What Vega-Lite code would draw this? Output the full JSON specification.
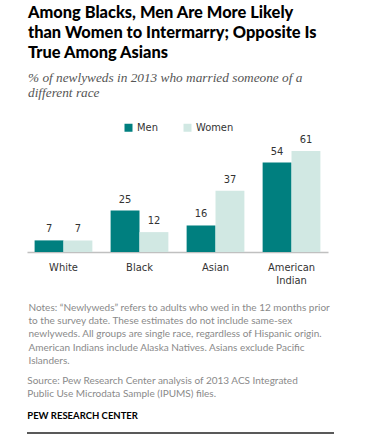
{
  "$schema": "https://vega.github.io/schema/vega-lite/v6.json",
  "padding": {"left": 26, "top": 5, "right": 5, "bottom": 5},
  "background": "white",
  "title": {
    "text": ["Among Blacks, Men Are More Likely", "than Women to Intermarry; Opposite Is", "True Among Asians"],
    "subtitle": ["% of newlyweds in 2013 who married someone of a", "different race"],
    "anchor": "start",
    "frame": "group",
    "dx": 1,
    "font": "Lato",
    "fontSize": 16.4,
    "fontWeight": 900,
    "color": "#000000",
    "lineHeight": 20,
    "subtitleFont": "Liberation Serif",
    "subtitleFontStyle": "italic",
    "subtitleFontSize": 13.3,
    "subtitleColor": "#555555",
    "subtitleLineHeight": 15,
    "subtitlePadding": 9,
    "offset": 23
  },
  "config": {"view": {"stroke": null}},
  "spacing": 9,
  "vconcat": [
    {
      "width": 301,
      "height": 116,
      "data": {
        "values": [
          {"race": "White", "sex": "Men", "pct": 7},
          {"race": "White", "sex": "Women", "pct": 7},
          {"race": "Black", "sex": "Men", "pct": 25},
          {"race": "Black", "sex": "Women", "pct": 12},
          {"race": "Asian", "sex": "Men", "pct": 16},
          {"race": "Asian", "sex": "Women", "pct": 37},
          {"race": "American Indian", "sex": "Men", "pct": 54},
          {"race": "American Indian", "sex": "Women", "pct": 61}
        ]
      },
      "encoding": {
        "x": {
          "field": "race",
          "type": "nominal",
          "sort": ["White", "Black", "Asian", "American Indian"],
          "scale": {"paddingInner": 0.24, "paddingOuter": 0.1},
          "axis": {
            "title": [
              "Notes: \u201cNewlyweds\u201d refers to adults who wed in the 12 months prior",
              "to the survey date. These estimates do not include same-sex",
              "newlyweds. All groups are single race, regardless of Hispanic origin.",
              "American Indians include Alaska Natives. Asians exclude Pacific",
              "Islanders."
            ],
            "titleAnchor": "start",
            "titleAlign": "left",
            "titleX": 1,
            "titleY": 50,
            "titleBaseline": "top",
            "titleFont": "Lato",
            "titleFontSize": 10,
            "titleFontWeight": "normal",
            "titleColor": "#8a8a8a",
            "titleLineHeight": 13.4,
            "labelFont": "DejaVu Sans Condensed, DejaVu Sans",
            "labelFontSize": 11,
            "labelColor": "#333333",
            "labelPadding": 9,
            "labelLineHeight": 13,
            "labelAngle": 0,
            "labelExpr": "datum.value == 'American Indian' ? ['American', 'Indian'] : datum.label",
            "ticks": false,
            "domainColor": "#c0c0c0",
            "domainWidth": 1.5
          }
        },
        "xOffset": {"field": "sex", "type": "nominal", "sort": ["Men", "Women"], "scale": {"paddingInner": 0}},
        "y": {"field": "pct", "type": "quantitative", "scale": {"domain": [0, 70]}, "axis": null}
      },
      "layer": [
        {
          "mark": {"type": "bar"},
          "encoding": {
            "color": {
              "field": "sex",
              "type": "nominal",
              "scale": {"domain": ["Men", "Women"], "range": ["#007f7f", "#d1e8e3"]},
              "legend": {
                "orient": "none",
                "legendX": 96,
                "legendY": -14,
                "direction": "horizontal",
                "title": null,
                "symbolType": "square",
                "symbolSize": 64,
                "symbolStrokeWidth": 0,
                "labelFont": "DejaVu Sans Condensed, DejaVu Sans",
                "labelFontSize": 11,
                "labelColor": "#333333",
                "labelOffset": 3,
                "columnPadding": 24
              }
            }
          }
        },
        {
          "mark": {"type": "text", "baseline": "alphabetic", "dy": -8, "font": "DejaVu Sans Condensed, DejaVu Sans", "fontSize": 11, "color": "#333333"},
          "encoding": {"text": {"field": "pct", "type": "quantitative"}}
        }
      ]
    },
    {
      "width": 307,
      "height": 1,
      "title": {
        "text": ["Source: Pew Research Center analysis of 2013 ACS Integrated", "Public Use Microdata Sample (IPUMS) files."],
        "subtitle": "PEW RESEARCH CENTER",
        "anchor": "start",
        "dx": 1,
        "font": "Lato",
        "fontSize": 10,
        "fontWeight": "normal",
        "color": "#8a8a8a",
        "lineHeight": 13.6,
        "subtitleFont": "Lato",
        "subtitleFontSize": 9.5,
        "subtitleFontWeight": "bold",
        "subtitleColor": "#000000",
        "subtitlePadding": 11,
        "offset": 12
      },
      "data": {"values": [{"v": 0}]},
      "mark": {"type": "rule", "color": "#222222", "strokeWidth": 1.5},
      "encoding": {"y": {"field": "v", "type": "quantitative", "axis": null, "scale": {"domain": [0, 1]}}}
    }
  ]
}
